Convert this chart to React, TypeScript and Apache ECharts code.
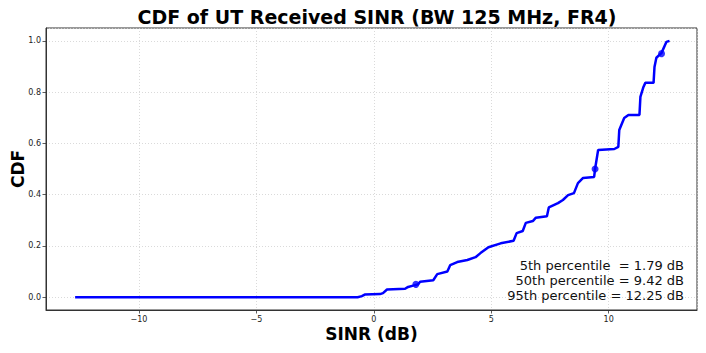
import React, { useEffect, useRef } from "react";
import * as echarts from "echarts";

const sinrValues = [
  -12.72, -0.69, -0.51, -0.39, 0.26, 0.39, 0.56, 1.33, 1.46, 1.67, 1.88, 1.97, 2.53, 2.7, 3.13,
  3.25, 3.55, 3.98, 4.33, 4.54, 4.88, 5.4, 5.95, 6.08, 6.34, 6.47, 6.77, 6.9, 7.37, 7.45, 7.84,
  8.05, 8.27, 8.52, 8.69, 8.91, 9.38, 9.42, 9.55, 10.24, 10.41, 10.45, 10.66, 10.84, 11.31,
  11.35, 11.48, 11.56, 11.91, 11.95, 12.03, 12.25, 12.46, 12.59,
];
const cdfValues = [
  0, 0, 0.004, 0.01, 0.012, 0.016, 0.03, 0.033, 0.04, 0.045, 0.05, 0.06, 0.066, 0.09, 0.1,
  0.125, 0.137, 0.145, 0.156, 0.172, 0.195, 0.21, 0.22, 0.25, 0.258, 0.29, 0.297, 0.31, 0.316,
  0.35, 0.367, 0.379, 0.398, 0.406, 0.445, 0.465, 0.469, 0.5, 0.574, 0.578, 0.586, 0.652,
  0.699, 0.711, 0.711, 0.781, 0.82, 0.836, 0.836, 0.898, 0.934, 0.953, 0.996, 1.0,
];
const percentileNames = ["5th", "50th", "95th"];
const percentileSinr = [1.79, 9.42, 12.25];
const percentileCdf = [0.05, 0.5, 0.95];
const xMin = -13.96;
const xMax = 13.76;
const yMin = -0.05;
const yMax = 1.05;

const FONT = "DejaVu Sans";

export default function App() {
  const ref = useRef<HTMLDivElement>(null);
  useEffect(() => {
    if (!ref.current) return;
    const chart = echarts.init(ref.current, null, { renderer: "svg" });
    const lineData = sinrValues.map((x, i) => [x, cdfValues[i]]);
    const markers = percentileSinr.map((x, i) => [x, percentileCdf[i]]);
    const annotationLines = [
      `${percentileNames[0]} percentile  = ${percentileSinr[0].toFixed(2)} dB`,
      `${percentileNames[1]} percentile = ${percentileSinr[1].toFixed(2)} dB`,
      `${percentileNames[2]} percentile = ${percentileSinr[2].toFixed(2)} dB`,
    ];
    chart.setOption({
      animation: false,
      backgroundColor: "#ffffff",
      title: {
        text: "CDF of UT Received SINR (BW 125 MHz, FR4)",
        left: 372,
        top: 2,
        textAlign: "center",
        textStyle: { fontFamily: FONT, fontSize: 19, fontWeight: "bold", color: "#000" },
      },
      grid: {
        left: 46,
        right: 9,
        top: 28,
        bottom: 43,
        show: true,
        borderColor: "#333",
        borderWidth: 1,
        backgroundColor: "transparent",
        containLabel: false,
        outerBoundsMode: "none",
      },
      xAxis: {
        type: "value",
        min: xMin,
        max: xMax,
        splitNumber: 5,
        name: "SINR (dB)",
        nameLocation: "middle",
        nameGap: 15,
        nameMoveOverlap: false,
        nameTextStyle: { fontFamily: FONT, fontSize: 17, fontWeight: "bold", color: "#000" },
        axisLine: { show: true, onZero: false, lineStyle: { color: "#333", width: 1 } },
        axisTick: { show: true, length: 3.5, lineStyle: { color: "#333", width: 0.8 } },
        axisLabel: {
          fontFamily: FONT,
          fontSize: 8,
          color: "#222",
          margin: 5,
          showMinLabel: false,
          showMaxLabel: false,
          formatter: (v: number) => (Math.abs(v % 5) < 1e-9 ? (v < 0 ? "\u2212" + Math.abs(v) : String(v)) : ""),
        },
        splitLine: { show: true, lineStyle: { color: "#d0d0d0", type: [1, 2], width: 0.8 } },
      },
      yAxis: {
        type: "value",
        min: yMin,
        max: yMax,
        splitNumber: 6,
        name: "CDF",
        nameLocation: "middle",
        nameGap: 20,
        nameMoveOverlap: false,
        nameTextStyle: { fontFamily: FONT, fontSize: 17, fontWeight: "bold", color: "#000" },
        axisLine: { show: true, onZero: false, lineStyle: { color: "#333", width: 1 } },
        axisTick: { show: true, length: 3.5, lineStyle: { color: "#333", width: 0.8 } },
        axisLabel: {
          fontFamily: FONT,
          fontSize: 8,
          color: "#222",
          margin: 5,
          showMinLabel: false,
          showMaxLabel: false,
          formatter: (v: number) => (Math.abs(Math.round(v * 5) - v * 5) < 1e-6 ? v.toFixed(1) : ""),
        },
        splitLine: { show: true, lineStyle: { color: "#d0d0d0", type: [1, 2], width: 0.8 } },
      },
      series: [
        {
          type: "line",
          data: lineData,
          showSymbol: false,
          symbol: "none",
          lineStyle: { color: "#0000ff", width: 2.5 },
          z: 3,
        },
        {
          type: "scatter",
          data: markers,
          symbol: "circle",
          symbolSize: 7,
          itemStyle: { color: "#0000ff" },
          z: 4,
        },
      ],
      graphic: annotationLines.map((t, i) => ({
        type: "text",
        x: 684,
        y: 265 + i * 15,
        style: {
          text: t,
          fontFamily: FONT,
          fontSize: 13,
          fill: "#111",
          align: "right",
          verticalAlign: "middle",
        },
        z: 10,
      })),
    });
    return () => chart.dispose();
  }, []);
  return <div ref={ref} style={{ width: 706, height: 353, position: "absolute", left: 0, top: 0 }} />;
}
